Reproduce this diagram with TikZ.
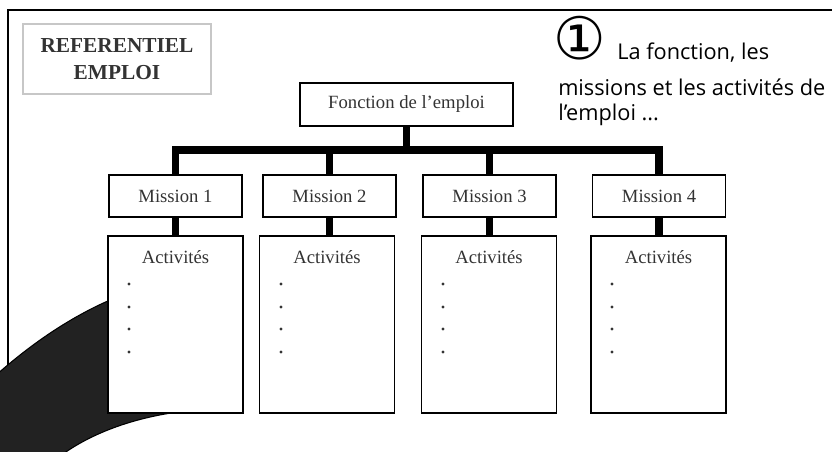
\documentclass[tikz,border=0pt]{standalone}
\usepackage{fontspec}
\setmainfont{Liberation Serif}
\newfontfamily\notefont{Open Sans}
\newfontfamily\circfont{DejaVu Sans}
\usetikzlibrary{positioning}

\definecolor{inkgray}{HTML}{333333}
\definecolor{crescent}{HTML}{222222}

\tikzset{
  box/.style={draw, line width=1.1pt, fill=white, text=inkgray, inner sep=0pt,
    font=\fontsize{14}{16}\selectfont},
  mission/.style={box, minimum width=99.75pt, minimum height=31.5pt},
  actbox/.style={box, minimum width=101.25pt, minimum height=132.75pt},
  bus/.style={line width=5.4pt},
  note/.style={font=\notefont\fontsize{16.3}{18.75}\selectfont, anchor=base west, inner sep=0pt},
}

\begin{document}
\begin{tikzpicture}[x=0.75pt, y=-0.75pt]
    \useasboundingbox (0,0) rectangle (832,451);
    \clip (0,0) rectangle (832,451);
    % outer frame
    \draw[line width=1.4pt] (8,10) rectangle (900,520);
    % dark curved band, partly behind the first box
    \filldraw[fill=crescent, draw=black, line width=0.8pt]
        (-5,376) .. controls (30,345) and (75,312) .. (130,292)
        -- (195,410) .. controls (140,415) and (90,432) .. (55,460)
        -- (-5,460) -- cycle;
    % title
    \node[draw=black!22, line width=0.8pt, fill=white, text=inkgray, align=center,
          minimum width=141pt, minimum height=52.5pt, inner sep=0pt,
          font=\bfseries\fontsize{16}{20.25}\selectfont] (title) at (117,59) {REFERENTIEL\\EMPLOI};
    % note
    \node[font=\circfont\fontsize{44}{44}\selectfont, inner sep=0pt] (num) at (580,38) {①};
    \node[note] (note1) at (617,59) {La fonction, les};
    \node[note] (note2) at (558,95) {missions et les activités de};
    \node[note] (note3) at (558,120) {l’emploi ...};
    % tree
    \node[box, minimum width=159.75pt, minimum height=32.25pt] (fn) at (406.5,104.5) {Fonction de l’emploi};
    \coordinate (bus) at (0,150);
    \foreach \i/\x in {1/175.5,2/329.5,3/489.5,4/659}
        \node[mission] (m\i) at (\x,196) {Mission \i};
    \foreach \i/\x in {1/175.5,2/327,3/489,4/658.5}{
        \node[actbox] (a\i) at (\x,324.5) {};
        \node[text=inkgray, font=\fontsize{14}{16}\selectfont, below=8pt of a\i.north] (t\i) {Activités};
        \draw[bus] (m\i.south) -- (m\i.south |- a\i.north);
    }
    \draw[bus] (fn.south) -- (fn.south |- bus);
    \draw[bus] (m1.north) -- (m1.north |- bus) -| (m4.north);
    \draw[bus] (m2.north) -- (m2.north |- bus);
    \draw[bus] (m3.north) -- (m3.north |- bus);
    % dots in the boxes
    \foreach \x in {129,281,443,612}
        \foreach \y in {284,307,329,352}
            \fill[inkgray] (\x,\y) circle (1.2pt);
\end{tikzpicture}
\end{document}
